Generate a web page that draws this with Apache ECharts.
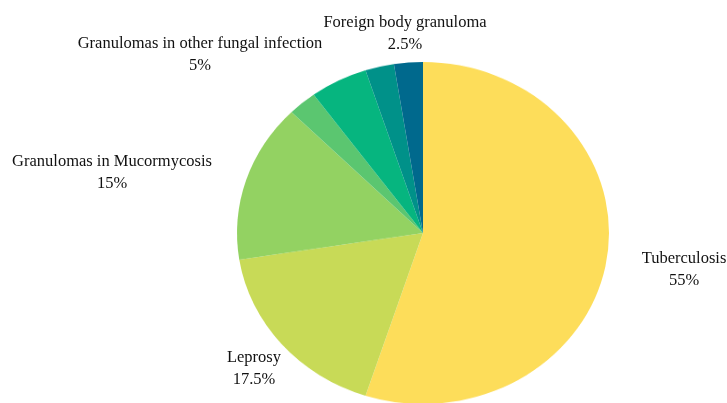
<!DOCTYPE html>
<html>
<head>
<meta charset="utf-8">
<script src="https://cdn.jsdelivr.net/npm/echarts@6/dist/echarts.min.js"></script>
<style>
  html, body { margin: 0; padding: 0; background: #fff; }
  #wrap { position: relative; width: 727px; height: 403px; overflow: hidden; }
  #pie { position: absolute; left: 0; top: 0; width: 727px; height: 470px; transform: scale(1, 0.9194); transform-origin: 423px 233px; }
  #labels { position: absolute; left: 0; top: 0; width: 727px; height: 403px; }
</style>
</head>
<body>
<div id="wrap">
  <div id="pie"></div>
  <div id="labels"></div>
</div>
<script>
const categories = ['Tuberculosis', 'Leprosy', 'Granulomas in Mucormycosis', '', 'Granulomas in other fungal infection', '', 'Foreign body granuloma'];
const values = [55, 17.5, 15, 2.5, 5, 2.5, 2.5];
const colors = ['#FDDD5A', '#C8DA57', '#93D262', '#5BC670', '#06B57F', '#009189', '#00698D'];
const showLabel = [true, true, true, false, true, false, true];
const labelPos = [[684, 270], [254, 369], [112, 173], null, [200, 55], null, [405, 34]];

const pieData = categories.map((c, i) => ({
  name: c,
  value: values[i],
  itemStyle: { color: colors[i] }
}));

const pieChart = echarts.init(document.getElementById('pie'), null, { renderer: 'canvas' });
pieChart.setOption({
  animation: false,
  series: [{
    type: 'pie',
    center: [423, 233],
    radius: 186,
    startAngle: 90,
    clockwise: true,
    label: { show: false },
    labelLine: { show: false },
    itemStyle: { borderWidth: 0 },
    emphasis: { disabled: true },
    data: pieData
  }]
});

const labelChart = echarts.init(document.getElementById('labels'), null, { renderer: 'canvas' });
labelChart.setOption({
  animation: false,
  series: [{
    type: 'pie',
    center: [423, 233],
    radius: 186,
    startAngle: 90,
    clockwise: true,
    silent: true,
    avoidLabelOverlap: false,
    itemStyle: { color: 'rgba(0,0,0,0)', borderWidth: 0 },
    label: {
      show: true,
      position: 'outside',
      formatter: p => p.name + '\n' + p.percent + '%',
      fontFamily: 'Liberation Serif',
      fontSize: 16.5,
      lineHeight: 22,
      color: '#111111',
      align: 'center'
    },
    labelLine: { show: false },
    labelLayout: function (params) {
      const pos = labelPos[params.dataIndex];
      if (!pos) return {};
      return { x: pos[0], y: pos[1], align: 'center', verticalAlign: 'middle' };
    },
    data: categories.map((c, i) => ({
      name: c,
      value: values[i],
      label: { show: showLabel[i] }
    }))
  }]
});
</script>
</body>
</html>
